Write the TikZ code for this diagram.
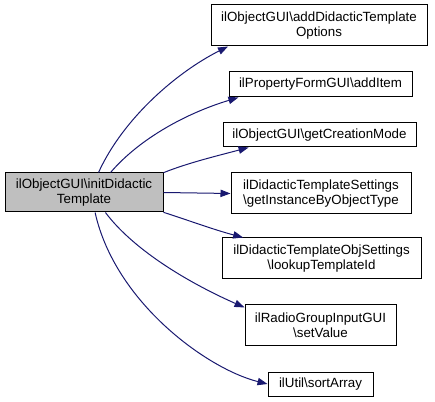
\documentclass[tikz,border=0pt]{standalone}
\usepackage{fontspec}
\setmainfont{Liberation Sans}
\usetikzlibrary{arrows.meta}
\definecolor{edgeblue}{RGB}{25,25,112}
\definecolor{rootgrey}{RGB}{191,191,191}
\begin{document}
\begin{tikzpicture}[x=0.75pt,y=-0.75pt,
	fn/.style={draw=black, fill=white, line width=0.75pt, inner sep=0pt, align=center,
		font=\fontsize{10}{11.5}\selectfont},
	call/.style={draw=edgeblue, line width=0.75pt, -{Triangle[length=7.5pt,width=5.5pt,fill=edgeblue]}}]
	\useasboundingbox (0,0) rectangle (435,402);
	% caller
	\node[fn, fill=rootgrey, minimum width=118.5pt, minimum height=29.25pt] (root) at (84,192.5) {ilObjectGUI\textbackslash initDidactic\\Template};
	% callees
	\node[fn, minimum width=162pt, minimum height=30.75pt] (opts) at (319,25.5) {ilObjectGUI\textbackslash addDidacticTemplate\\Options};
	\node[fn, minimum width=137.25pt, minimum height=18.75pt] (additem) at (320.5,84.5) {ilPropertyFormGUI\textbackslash addItem};
	\node[fn, minimum width=144.75pt, minimum height=18pt] (mode) at (319.5,135) {ilObjectGUI\textbackslash getCreationMode};
	\node[fn, minimum width=135pt, minimum height=30.75pt] (inst) at (321,193.5) {ilDidacticTemplateSettings\\\textbackslash getInstanceByObjectType};
	\node[fn, minimum width=149.25pt, minimum height=30.75pt] (lookup) at (321.5,258.5) {ilDidacticTemplateObjSettings\\\textbackslash lookupTemplateId};
	\node[fn, minimum width=113.25pt, minimum height=30pt] (setval) at (320.5,325) {ilRadioGroupInputGUI\\\textbackslash setValue};
	\node[fn, minimum width=78.75pt, minimum height=18pt] (sort) at (320.5,384) {ilUtil\textbackslash sortArray};
	% calls
	\draw[call] (root.54) .. controls +(25,-55) and +(-50,25) .. (opts.193);
	\draw[call] (root.37) .. controls +(30,-35) and +(-50,15) .. (additem.189);
	\draw[call] (root.14) .. controls +(25,-10) and +(-30,8) .. (mode.190);
	\draw[call] (root.east) -- (inst.west);
	\draw[call] (root.-14) .. controls +(25,8) and +(-30,-8) .. (lookup.165);
	\draw[call] (root.-43) .. controls +(30,40) and +(-50,-22) .. (setval.167);
	\draw[call] (root.-61) .. controls +(20,90) and +(-60,-15) .. (sort.west);
\end{tikzpicture}
\end{document}
